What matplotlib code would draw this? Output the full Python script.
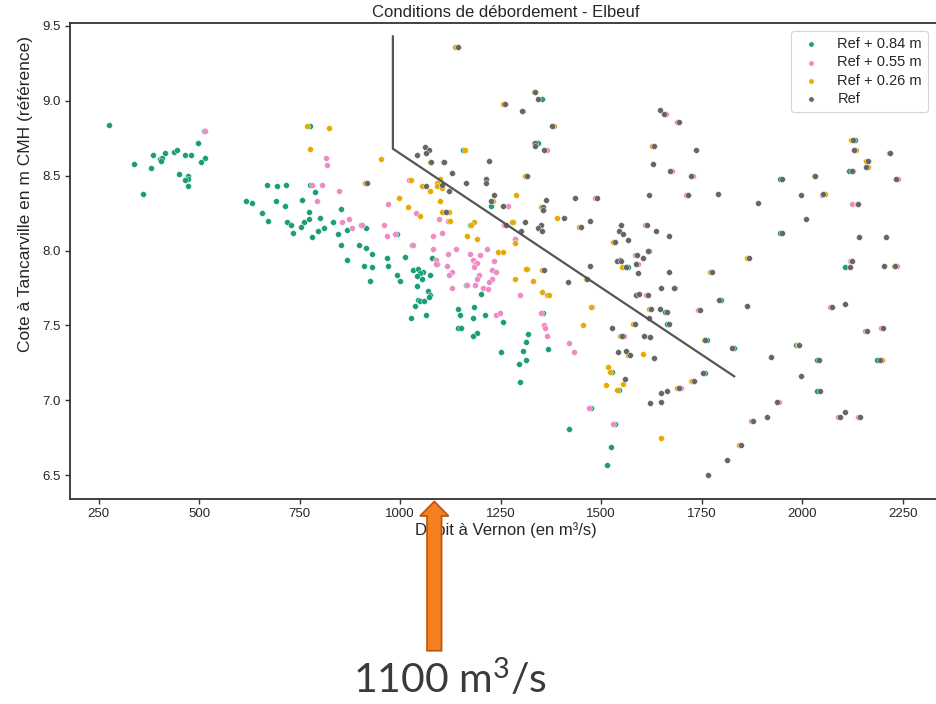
import matplotlib
matplotlib.use("Agg")
import matplotlib.pyplot as plt
from matplotlib.patches import FancyArrow
from matplotlib.transforms import blended_transform_factory

plt.rcParams['font.family'] = ['Liberation Sans', 'DejaVu Sans']
plt.rcParams['mathtext.default'] = 'regular'

# ---- data ----
# Ref + 0.84 m
green_x = [276, 496, 339, 386, 380, 403, 407, 404, 416, 438, 446, 466, 481, 514, 504, 451, 473, 472, 466, 472, 360, 512,
           776, 669, 693, 716, 776, 788, 617, 631, 690, 714, 756, 656, 672, 774, 774, 801, 853, 719, 728, 761, 754, 734,
           796, 811, 781, 834, 868, 846, 903, 914, 853, 898, 916, 929, 868, 967, 971, 911, 929, 924,
           1156, 1226, 1173, 1011, 1079, 992, 1029, 1091, 1033, 1045, 1058, 1049, 1041, 1054, 1074, 993, 999, 1041,
           1069, 1074, 1072, 1044, 1050, 1059, 1036, 1028, 1065, 1145, 1149, 1184, 1181, 1212, 1143, 1151, 1190, 1181,
           1255, 1250, 1163, 1201, 1282, 1316, 1355, 1318, 1313, 1306, 1313, 1296, 1367, 1298, 1420, 1475, 1534, 1525,
           1515, 1342, 1352, 1355, 1285,
           1566, 1589, 1620, 1660, 1665, 1945, 1945, 2132, 2117, 1763, 1830, 1758, 1985, 2036, 2186, 2038, 2107, 1526,
           1545, 1797]
green_y = [8.84, 8.72, 8.58, 8.64, 8.55, 8.61, 8.62, 8.60, 8.65, 8.66, 8.67, 8.64, 8.64, 8.62, 8.59, 8.51, 8.50, 8.48, 8.47, 8.43, 8.38, 8.80,
           8.83, 8.44, 8.43, 8.44, 8.44, 8.39, 8.33, 8.32, 8.33, 8.30, 8.34, 8.25, 8.20, 8.26, 8.21, 8.22, 8.28, 8.19, 8.17, 8.19, 8.16, 8.12,
           8.13, 8.15, 8.09, 8.19, 8.14, 8.11, 8.17, 8.15, 8.04, 8.04, 8.02, 7.98, 7.94, 7.95, 7.90, 7.90, 7.89, 7.80,
           8.67, 8.30, 8.17, 7.96, 7.95, 8.11, 8.04, 7.91, 7.87, 7.88, 7.86, 7.85, 7.83, 7.81, 7.84, 7.84, 7.80, 7.76,
           7.73, 7.70, 7.69, 7.67, 7.66, 7.66, 7.63, 7.55, 7.57, 7.61, 7.57, 7.62, 7.55, 7.57, 7.48, 7.48, 7.45, 7.43,
           7.52, 7.32, 7.77, 7.71, 8.19, 7.88, 7.58, 7.44, 7.39, 7.33, 7.27, 7.24, 7.34, 7.12, 6.81, 6.95, 6.84, 6.69,
           6.57, 8.72, 9.01, 8.27, 8.08,
           7.89, 7.70, 8.00, 7.59, 7.51, 8.48, 8.12, 8.74, 8.53, 7.40, 7.35, 7.18, 7.37, 7.27, 7.27, 7.06, 7.89, 7.19,
           7.07, 7.67]

# Ref + 0.55 m
pink_x = [515, 781, 806, 793, 847, 971, 855, 873, 881, 906, 960, 967, 816, 818,
          1022, 1268, 1040, 1108, 1097, 1120, 988, 1104, 1083, 1285, 1033, 1081, 1119, 1139, 1173, 1199, 1217, 1089,
          1089, 1181, 1186, 1190, 1184, 1234, 1116, 1128, 1122, 1197, 1190, 1229, 1239, 1228, 1221, 1167, 1187, 1207,
          1219, 1130, 1238, 1248, 1297, 1351, 1359, 1360, 1365, 1420, 1433, 1478, 1471, 1530, 1365, 1315, 1258, 1485,
          1661, 1688, 1676, 1729, 1711, 2050, 2239, 2124, 2118, 2235, 2070, 2156, 2197, 1943, 1872, 2090, 2138, 1742,
          1723, 1699, 1592, 1612, 1618, 1557, 1610, 1585]
pink_y = [8.80, 8.44, 8.44, 8.33, 8.40, 8.31, 8.19, 8.21, 8.15, 8.17, 8.17, 8.10, 8.62, 8.57,
          8.47, 8.30, 8.25, 8.26, 8.21, 8.20, 8.11, 8.12, 8.10, 8.08, 8.04, 8.01, 7.98, 8.01, 7.98, 7.97, 8.01, 7.94,
          7.91, 7.94, 7.91, 7.92, 7.89, 7.93, 7.90, 7.86, 7.84, 7.84, 7.81, 7.87, 7.86, 7.81, 7.79, 7.77, 7.77, 7.75,
          7.74, 7.75, 7.57, 7.58, 7.70, 7.58, 7.50, 7.48, 7.43, 7.38, 7.32, 7.62, 6.95, 6.84, 8.67, 8.50, 8.17, 8.35,
          8.91, 8.86, 8.53, 8.50, 8.37, 8.37, 8.48, 8.31, 7.93, 7.90, 7.62, 7.46, 7.48, 6.99, 6.86, 6.89, 6.89, 7.60,
          7.13, 7.08, 7.91, 7.70, 7.42, 7.43, 8.17, 7.97]

# Ref + 0.26 m
orange_x = [769, 823, 777, 952, 913, 997, 1020, 1049,
            1137, 1332, 1257, 1306, 1384, 1332, 1161, 1074, 1106, 1310, 1026, 1099, 1091, 1091, 1055, 1074, 1104,
            1288, 1230, 1099, 1103, 1122, 1124, 1185, 1177, 1278, 1390, 1446, 1167, 1190, 1285, 1243, 1256, 1312,
            1353, 1286, 1331, 1354, 1365, 1371, 1462, 1474, 1455, 1552, 1580, 1546, 1568, 1603, 1517, 1521, 1555,
            1512, 1540, 1649, 1529, 1627, 1351,
            1685, 1619, 1716, 2029, 2057, 1864, 2122, 2134, 2160, 2163, 2215, 2127, 2136, 2228, 2121, 1770, 1755,
            1727, 1688, 1990, 2199, 1844]
orange_y = [8.83, 8.82, 8.68, 8.61, 8.45, 8.35, 8.29, 8.23,
            9.36, 9.06, 8.98, 8.93, 8.83, 8.72, 8.67, 8.59, 8.59, 8.50, 8.47, 8.48, 8.45, 8.43, 8.43, 8.40, 8.42,
            8.37, 8.33, 8.33, 8.26, 8.26, 8.20, 8.19, 8.17, 8.19, 8.22, 8.16, 8.10, 8.08, 8.05, 7.99, 7.99, 7.88,
            7.87, 7.81, 7.80, 7.72, 7.70, 7.70, 7.81, 7.62, 7.50, 7.89, 7.51, 7.43, 7.30, 7.31, 7.22, 7.19, 7.11,
            7.10, 7.07, 6.75, 8.06, 8.70, 8.29,
            7.75, 7.61, 8.37, 8.50, 8.38, 7.95, 8.74, 8.67, 8.60, 8.56, 8.65, 8.53, 8.31, 7.90, 7.93, 7.86, 7.40,
            7.13, 7.08, 7.37, 7.27, 6.70]

# Ref
ref_x = [917, 1145, 1336, 1344, 1262, 1302, 1379, 1336, 1336, 1359, 1647, 1657, 1693, 1631, 1630, 1671, 1061, 1071,
         1064, 1041, 1078, 1110, 1221, 1129, 1315, 1214, 1214, 1165, 1105, 1064, 1122, 1233, 1226, 1257, 1364, 1435,
         1489, 1618, 1355, 1355, 1113, 1311, 1407, 1472, 1450, 1263, 1350, 1343, 1353, 1300, 1549, 1544, 1555, 1567,
         1534, 1615, 1637, 1670, 1616, 1589, 1605, 1547, 1358, 1418, 1472, 1466, 1539, 1550, 1562, 1587, 1591, 1670,
         1649, 1681, 1587, 1593, 1616, 1623, 1647, 1665, 1618, 1585, 1670, 1526, 1552, 1607, 1622, 1542, 1562, 1573,
         1632, 1560, 1693, 1649, 1663, 1622, 1649,
         1735, 1724, 1716, 1791, 1890, 1949, 2033, 1998, 2053, 2009, 1949, 1869, 2127, 2130, 2163, 2159, 2219, 2123,
         2234, 2140, 2141, 2209, 2124, 2120, 2204, 2231, 1775, 1792, 1863, 1747, 1759, 1826, 1754, 1732, 2074, 2106,
         2161, 2202, 1993, 1922, 2042, 2194, 1997, 2044, 1938, 1877, 1913, 2107, 2094, 2143, 1849, 1813, 1767]
ref_y = [8.45, 9.36, 9.06, 9.01, 8.98, 8.93, 8.83, 8.72, 8.70, 8.67, 8.94, 8.91, 8.86, 8.70, 8.58, 8.53, 8.69, 8.67,
         8.65, 8.64, 8.59, 8.59, 8.60, 8.52, 8.50, 8.48, 8.45, 8.45, 8.44, 8.43, 8.40, 8.37, 8.33, 8.30, 8.34, 8.35,
         8.35, 8.37, 8.29, 8.27, 8.26, 8.19, 8.22, 8.20, 8.16, 8.17, 8.17, 8.15, 8.13, 8.13, 8.17, 8.13, 8.11, 8.07,
         8.06, 8.17, 8.13, 8.10, 8.00, 7.97, 7.95, 7.94, 7.87, 7.79, 7.90, 7.81, 7.93, 7.93, 7.89, 7.91, 7.85, 7.86,
         7.75, 7.75, 7.70, 7.71, 7.70, 7.61, 7.61, 7.59, 7.55, 7.51, 7.51, 7.48, 7.43, 7.43, 7.42, 7.32, 7.33, 7.30,
         7.28, 7.14, 7.08, 7.05, 7.06, 6.98, 6.99,
         8.67, 8.50, 8.37, 8.38, 8.32, 8.48, 8.50, 8.37, 8.38, 8.21, 8.12, 7.95, 8.74, 8.67, 8.60, 8.56, 8.65, 8.53,
         8.48, 8.31, 8.09, 8.09, 7.93, 7.89, 7.90, 7.90, 7.86, 7.67, 7.63, 7.60, 7.40, 7.35, 7.18, 7.13, 7.62, 7.64,
         7.46, 7.48, 7.37, 7.29, 7.27, 7.27, 7.16, 7.06, 6.99, 6.86, 6.89, 6.92, 6.89, 6.89, 6.70, 6.60, 6.50]

labels = ['Ref + 0.84 m', 'Ref + 0.55 m', 'Ref + 0.26 m', 'Ref']
colors = ['#1b9e77', '#ef8ac6', '#e6ab02', '#666666']

# hand drawn overflow limit
limit_x = [982, 982, 1831]
limit_y = [9.43, 8.68, 7.16]

arrow_x = 1085
note_text = '1100 m$^3$/s'

# ---- figure ----
fig = plt.figure(figsize=(9.37, 7.04), dpi=100)
ax = fig.add_axes([0.0742, 0.2919, 0.9315, 0.6761])

series = [(green_x, green_y), (pink_x, pink_y), (orange_x, orange_y), (ref_x, ref_y)]
for (xs, ys), lab, col in zip(series, labels, colors):
    ax.scatter(xs, ys, s=18, c=col, edgecolors='white', linewidths=0.3, label=lab, zorder=2)

ax.plot(limit_x, limit_y, color='#555555', lw=1.6, zorder=3)

ax.set_xlim(177.6, 2348.8)
ax.set_ylim(6.344, 9.523)
ax.set_xticks([250, 500, 750, 1000, 1250, 1500, 1750, 2000, 2250])
ax.set_yticks([6.5, 7.0, 7.5, 8.0, 8.5, 9.0, 9.5])
ax.set_yticklabels(['6.5', '7.0', '7.5', '8.0', '8.5', '9.0', '9.5'])

for sp in ax.spines.values():
    sp.set_color('#333333')
    sp.set_linewidth(1.3)
ax.tick_params(length=3.5, width=1.0, color='#333333', labelsize=9.5, labelcolor='#262626', pad=3)

ax.set_title('Conditions de débordement - Elbeuf', fontsize=12, color='#262626', pad=4)
ax.set_xlabel('Débit à Vernon (en m³/s)', fontsize=12, color='#262626', labelpad=2)
ax.set_ylabel('Cote à Tancarville en m CMH (référence)', fontsize=12.5, color='#262626')
# the label sits higher than the axes centre in the original
ax.yaxis.set_label_coords(-0.042, 0.64)

leg = ax.legend(loc='upper right', fontsize=10.5, markerscale=0.9, labelspacing=0.3,
                frameon=True, fancybox=True, borderaxespad=0.6, bbox_to_anchor=(0.9935, 1.0))
leg.get_frame().set_edgecolor('#cccccc')
leg.get_frame().set_linewidth(0.8)
for t in leg.get_texts():
    t.set_color('#262626')

# orange arrow and note under the axis
tr = blended_transform_factory(ax.transData, fig.transFigure)
arrow = FancyArrow(arrow_x, 53.3 / 704, 0, (650.7 - 516.0) / 704,
                   width=36, head_width=71, head_length=14.5 / 704,
                   length_includes_head=False, transform=tr,
                   facecolor='#f5801f', edgecolor='#c0570f', linewidth=1.3, clip_on=False)
fig.add_artist(arrow)
fig.text(450.5 / 937, 11 / 704, note_text, fontsize=29.5, family=['Lato', 'DejaVu Sans'],
         color='#3a3a3a', ha='center', va='baseline')

fig.savefig('out.png', dpi=100)
